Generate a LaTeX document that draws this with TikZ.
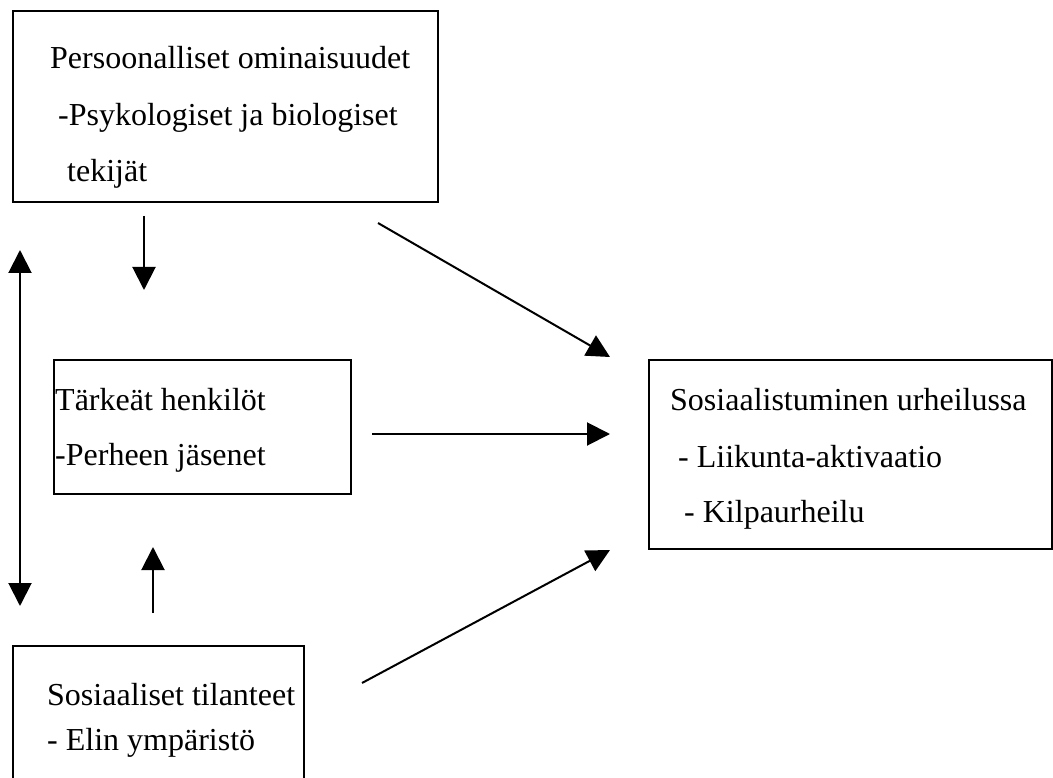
\documentclass[tikz,border=0pt]{standalone}
\usepackage{fontspec}
\setmainfont{Liberation Serif}
\usetikzlibrary{arrows.meta}

\tikzset{
 box/.style={draw, line width=2pt, rectangle, anchor=north west, inner sep=0pt},
 txt/.style={anchor=base west, inner sep=0pt, font=\fontsize{32}{38}\selectfont},
 arr/.style={line width=2pt, -{Triangle[length=23pt,width=23pt]}},
}

\begin{document}
\begin{tikzpicture}[x=1pt,y=-1pt]
 \useasboundingbox (0,0) rectangle (1053,778);
 \clip (0,0) rectangle (1053,778);

 % boxes
 \node[box, minimum width=425, minimum height=191] (pers) at (12,10) {};
 \node[box, minimum width=297, minimum height=134] (henk) at (53,359) {};
 \node[box, minimum width=403, minimum height=189] (sos) at (648,359) {};
 \node[box, minimum width=291, minimum height=160] (tila) at (12,645) {};

 % texts
 \node[txt] (pers1) at (50,69) {Persoonalliset ominaisuudet};
 \node[txt] (pers2) at (58,126) {-Psykologiset ja biologiset};
 \node[txt] (pers3) at (67,182) {tekijät};
 \node[txt] (henk1) at (55,410) {Tärkeät henkilöt};
 \node[txt] (henk2) at (55,465) {-Perheen jäsenet};
 \node[txt] (sos1) at (670,410) {Sosiaalistuminen urheilussa};
 \node[txt] (sos2) at (678,467) {- Liikunta-aktivaatio};
 \node[txt] (sos3) at (684,522) {- Kilpaurheilu};
 \node[txt] (tila1) at (47,705) {Sosiaaliset tilanteet};
 \node[txt] (tila2) at (47,750) {- Elin ympäristö};

 % arrow ends
 \coordinate (downA) at (144,216);  \coordinate (downB) at (144,290);
 \coordinate (upA) at (153,613);    \coordinate (upB) at (153,547);
 \coordinate (sideA) at (20,250);   \coordinate (sideB) at (20,606);
 \coordinate (topA) at (378,223);   \coordinate (topB) at (610,357);
 \coordinate (midA) at (372,434);   \coordinate (midB) at (610,434);
 \coordinate (lowA) at (362,683);   \coordinate (lowB) at (610,550);

 \draw[arr] (downA) -- (downB);
 \draw[arr] (upA) -- (upB);
 \draw[arr, {Triangle[length=23pt,width=23pt]}-{Triangle[length=23pt,width=23pt]}] (sideA) -- (sideB);
 \draw[arr] (topA) -- (topB);
 \draw[arr] (midA) -- (midB);
 \draw[arr] (lowA) -- (lowB);
\end{tikzpicture}
\end{document}
